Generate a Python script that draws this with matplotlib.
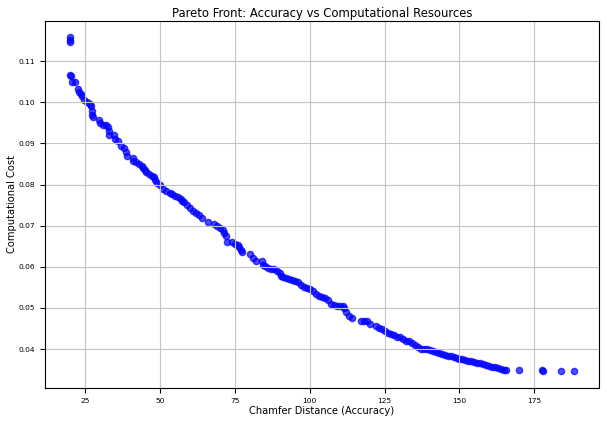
import numpy as np
import matplotlib.pyplot as plt

# Chamfer distance (accuracy) vs computational cost
chamfer = [20.0, 20.0, 20.1, 20.0, 20.2, 20.6, 21.5, 22.5, 23.0, 23.5, 24.0, 24.5,
           25.5, 26.5, 27.0, 27.2, 27.3, 27.5, 29.5, 30.0, 31.0, 32.0, 32.5, 33.0,
           33.0, 34.5, 35.0, 36.0, 37.0, 38.0, 38.5, 39.0, 41.0, 41.0, 42.0, 43.0,
           44.0, 44.5, 45.0, 45.5, 46.5, 47.5, 48.0, 48.5, 49.0, 50.0, 51.0, 52.0,
           53.5, 54.0, 55.0, 56.0, 57.0, 57.5, 58.0, 59.0, 60.0, 61.0, 62.0, 63.0,
           64.0, 66.0, 68.0, 69.0, 70.0, 71.0, 71.5, 72.0, 72.5, 74.0, 75.0, 76.0,
           76.5, 77.0, 77.5, 80.0, 81.0, 82.0, 84.0, 84.5, 85.0, 86.0, 87.0, 88.0,
           89.0, 90.0, 90.5, 91.0, 92.0, 93.0, 94.0, 95.0, 96.0, 97.0, 98.0, 99.0,
           100.0, 101.0, 102.0, 103.0, 104.0, 105.0, 106.0, 107.0, 108.0, 109.0, 110.0, 111.0,
           111.5, 112.0, 113.0, 114.0, 117.0, 118.0, 119.0, 120.0, 122.0, 123.0, 124.0, 125.0,
           126.0, 127.0, 128.0, 129.0, 130.0, 131.0, 132.0, 133.0, 134.0, 135.0, 136.0, 137.0,
           138.0, 139.0, 140.0, 141.0, 142.0, 143.0, 144.0, 145.0, 146.0, 147.0, 148.0, 149.0,
           150.0, 151.0, 152.0, 153.0, 154.0, 155.0, 156.0, 157.0, 158.0, 159.0, 160.0, 161.0,
           162.0, 163.0, 164.0, 165.0, 165.5, 169.7, 177.7, 178.0, 183.9, 188.2]
cost = [0.1158, 0.1152, 0.1148, 0.1067, 0.1063, 0.1050, 0.1050, 0.1033, 0.1025, 0.1020, 0.1015, 0.1005,
        0.1000, 0.0995, 0.0990, 0.0980, 0.0970, 0.0965, 0.0958, 0.0950, 0.0945, 0.0945, 0.0940, 0.0930,
        0.0920, 0.0920, 0.0910, 0.0905, 0.0895, 0.0890, 0.0880, 0.0870, 0.0865, 0.0857, 0.0855, 0.0850,
        0.0845, 0.0840, 0.0835, 0.0830, 0.0825, 0.0820, 0.0818, 0.0810, 0.0805, 0.0800, 0.0790, 0.0785,
        0.0780, 0.0778, 0.0772, 0.0770, 0.0765, 0.0760, 0.0758, 0.0750, 0.0742, 0.0735, 0.0730, 0.0725,
        0.0718, 0.0708, 0.0705, 0.0700, 0.0695, 0.0690, 0.0683, 0.0675, 0.0660, 0.0660, 0.0655, 0.0652,
        0.0648, 0.0640, 0.0635, 0.0630, 0.0622, 0.0615, 0.0613, 0.0605, 0.0603, 0.0598, 0.0595, 0.0595,
        0.0590, 0.0585, 0.0578, 0.0575, 0.0572, 0.0570, 0.0567, 0.0565, 0.0562, 0.0555, 0.0550, 0.0548,
        0.0545, 0.0540, 0.0535, 0.0530, 0.0527, 0.0525, 0.0520, 0.0510, 0.0508, 0.0505, 0.0505, 0.0505,
        0.0500, 0.0490, 0.0480, 0.0475, 0.0468, 0.0467, 0.0467, 0.0460, 0.0455, 0.0450, 0.0448, 0.0445,
        0.0440, 0.0437, 0.0433, 0.0430, 0.0430, 0.0425, 0.0420, 0.0420, 0.0415, 0.0410, 0.0405, 0.0400,
        0.0400, 0.0400, 0.0398, 0.0395, 0.0393, 0.0390, 0.0388, 0.0385, 0.0383, 0.0382, 0.0380, 0.0378,
        0.0375, 0.0375, 0.0373, 0.0372, 0.0370, 0.0368, 0.0367, 0.0365, 0.0363, 0.0360, 0.0358, 0.0357,
        0.0356, 0.0354, 0.0352, 0.0350, 0.0350, 0.0348, 0.0349, 0.0347, 0.0347, 0.0346]

fig = plt.figure(figsize=(6.07, 4.23), dpi=100)
plt.subplots_adjust(left=0.074, right=0.987, top=0.951, bottom=0.083)
plt.scatter(chamfer, cost, c='blue', alpha=0.7, s=20)
plt.title('Pareto Front: Accuracy vs Computational Resources', fontsize=8.4, pad=3)
plt.xlabel('Chamfer Distance (Accuracy)', fontsize=7.1, labelpad=2)
plt.ylabel('Computational Cost', fontsize=7.1, labelpad=1)
plt.xticks(fontsize=5.4)
plt.yticks(fontsize=5.4)
plt.grid(True, color='#c4c4c4')
plt.savefig('out.png', dpi=100)
